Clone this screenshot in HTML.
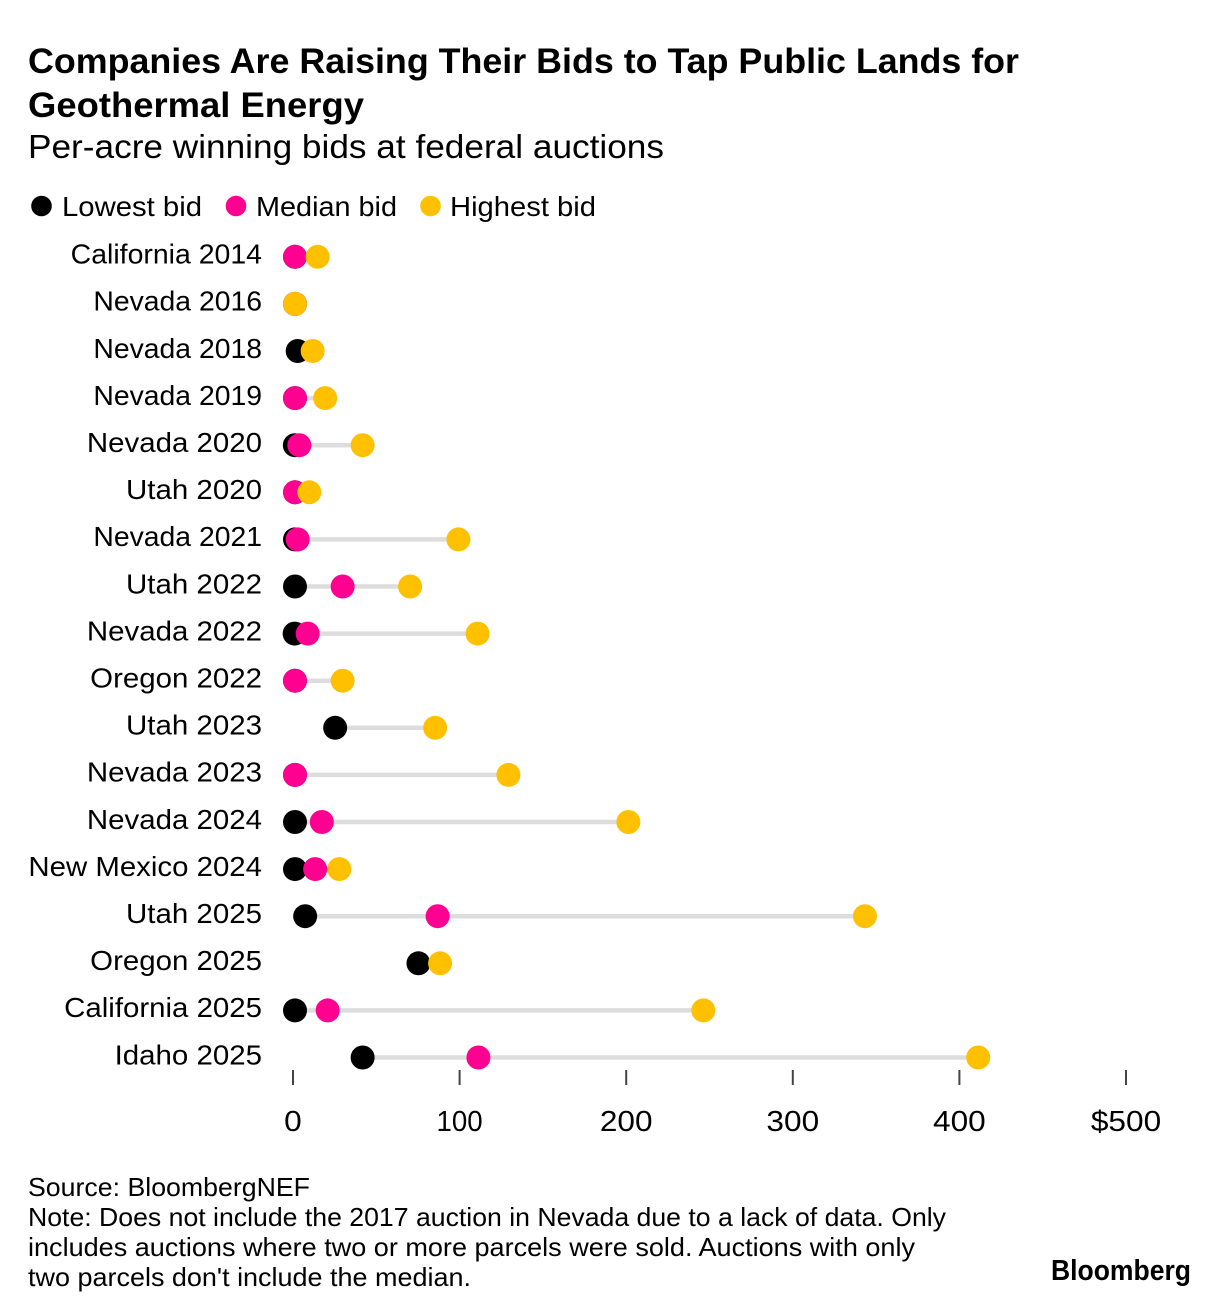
<!DOCTYPE html>
<html lang="en">
<head>
<meta charset="utf-8">
<title>Companies Are Raising Their Bids to Tap Public Lands for Geothermal Energy</title>
<style>
html,body{margin:0;padding:0;background:#fff;}
body{width:1230px;height:1316px;overflow:hidden;}
svg{display:block;font-family:"Liberation Sans",sans-serif;fill:#000;}
</style>
</head>
<body>
<svg id="chart" width="1230" height="1316" viewBox="0 0 1230 1316" xmlns="http://www.w3.org/2000/svg">
  <g font-weight="700" font-size="35">
    <text x="28" y="73" textLength="991" lengthAdjust="spacingAndGlyphs">Companies Are Raising Their Bids to Tap Public Lands for</text>
    <text x="28" y="117" textLength="336" lengthAdjust="spacingAndGlyphs">Geothermal Energy</text>
  </g>
  <text x="28" y="158" font-size="33" textLength="636" lengthAdjust="spacingAndGlyphs">Per-acre winning bids at federal auctions</text>

  <g font-size="28">
    <g>
      <circle cx="41.5" cy="206" r="10.3" fill="#000"/>
      <text x="62" y="216" textLength="140" lengthAdjust="spacingAndGlyphs">Lowest bid</text>
    </g>
    <g>
      <circle cx="236" cy="206" r="10.3" fill="#ff0090"/>
      <text x="256" y="216" textLength="141" lengthAdjust="spacingAndGlyphs">Median bid</text>
    </g>
    <g>
      <circle cx="430.5" cy="206" r="10.3" fill="#ffc000"/>
      <text x="450" y="216" textLength="146" lengthAdjust="spacingAndGlyphs">Highest bid</text>
    </g>
  </g>

  <g id="rows"></g>
  <g id="axis"></g>

  <g font-size="26">
    <text x="28" y="1196" textLength="282" lengthAdjust="spacingAndGlyphs">Source: BloombergNEF</text>
    <text x="28" y="1226" textLength="918" lengthAdjust="spacingAndGlyphs">Note: Does not include the 2017 auction in Nevada due to a lack of data. Only</text>
    <text x="28" y="1256" textLength="887" lengthAdjust="spacingAndGlyphs">includes auctions where two or more parcels were sold. Auctions with only</text>
    <text x="28" y="1286" textLength="443" lengthAdjust="spacingAndGlyphs">two parcels don't include the median.</text>
  </g>
  <text x="1051" y="1280" font-size="29" font-weight="700" textLength="140" lengthAdjust="spacingAndGlyphs">Bloomberg</text>
</svg>
<script>
// Chart data (USD per acre); null means the value is not reported for that auction.
const categories = ["California 2014","Nevada 2016","Nevada 2018","Nevada 2019","Nevada 2020","Utah 2020","Nevada 2021","Utah 2022","Nevada 2022","Oregon 2022","Utah 2023","Nevada 2023","Nevada 2024","New Mexico 2024","Utah 2025","Oregon 2025","California 2025","Idaho 2025"];
const lowestBid = [1.2,1.2,2.8,1.2,1.1,1.2,1.2,1.2,1,1.2,25.3,1.2,1.2,1.2,7.3,75.3,1.2,41.8];
const medianBid = [1.2,1.2,null,1.2,3.8,1.2,2.8,29.8,8.8,1.2,null,1.2,17.3,13.3,86.8,null,20.8,111.3];
const highestBid = [14.8,1.2,11.8,19.3,41.8,9.8,99.3,70.3,110.8,29.8,85.3,129.3,201.3,27.8,343.3,88.3,246.3,411.3];
const xTicks = [0,100,200,300,400,500];
const xTickLabels = ["0","100","200","300","400","$500"];

const SVG_NS = "http://www.w3.org/2000/svg";
const xScale = v => 293 + v * (1126 - 293) / 500;
const yScale = i => 256.8 + i * (1057.5 - 256.8) / (categories.length - 1);
const rowsGroup = document.getElementById("rows");
const axisGroup = document.getElementById("axis");

function make(tag, attrs, parent) {
  const el = document.createElementNS(SVG_NS, tag);
  for (const k in attrs) el.setAttribute(k, attrs[k]);
  parent.appendChild(el);
  return el;
}

// The reference typeface has wider digits and a narrow "1"; fit text widths by rule.
function fitText(el, scale, extra) {
  const ones = (el.textContent.match(/1/g) || []).length;
  const w = el.getComputedTextLength() * scale + extra - ones * 6.5;
  el.setAttribute("textLength", w.toFixed(1));
  el.setAttribute("lengthAdjust", "spacingAndGlyphs");
}

categories.forEach((cat, i) => {
  const y = yScale(i);
  const row = make("g", {}, rowsGroup);
  
  

  const label = make("text", {x: 262, y: y + 6.8, "text-anchor": "end", "font-size": 28}, row);
  
  
  label.textContent = cat;
  fitText(label, 1.045, 1);

  const line = make("line", {x1: xScale(lowestBid[i]), x2: xScale(highestBid[i]), y1: y, y2: y, stroke: "#dddddd", "stroke-width": 4.5}, row);
  
  

  const low = make("circle", {cx: xScale(lowestBid[i]), cy: y, r: 12, fill: "#000000"}, row);
  
  

  if (medianBid[i] !== null) {
    const med = make("circle", {cx: xScale(medianBid[i]), cy: y, r: 12, fill: "#ff0090"}, row);
    
    
  }

  const high = make("circle", {cx: xScale(highestBid[i]), cy: y, r: 12, fill: "#ffc000"}, row);
  
  
});

xTicks.forEach((t, i) => {
  const x = xScale(t);
  const tick = make("line", {x1: x, x2: x, y1: 1070, y2: 1085, stroke: "#444444", "stroke-width": 2}, axisGroup);
  
  
  const lab = make("text", {x: x, y: 1131, "text-anchor": "middle", "font-size": 29}, axisGroup);
  
  
  lab.textContent = xTickLabels[i];
  fitText(lab, 1.09, 0);
});
</script>
</body>
</html>
